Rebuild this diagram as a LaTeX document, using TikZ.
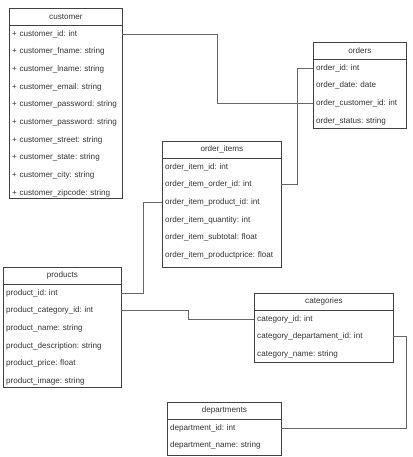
\documentclass[tikz,border=0pt]{standalone}
\usepackage{fontspec}
\setmainfont{Liberation Sans}
\usepackage{tikz}
\usetikzlibrary{positioning}
\frenchspacing

\begin{document}
\begin{tikzpicture}[x=1pt, y=-1pt,
		tbl/.style={draw=black!75, line width=0.8pt, anchor=north west, inner sep=0pt},
		head/.style={text=black!80, font=\fontsize{8.1}{10}\selectfont\frenchspacing},
		row/.style={anchor=west, text width=#1, align=left, inner xsep=3pt, inner ysep=0pt, minimum height=17.3pt, text=black!80, font=\fontsize{8.1}{10}\selectfont\frenchspacing},
		link/.style={draw=black!60, line width=0.8pt}]
		\useasboundingbox (0,0) rectangle (412,457);

		\node (customer) [tbl, minimum width=113pt, minimum height=190pt] at (9,8) {};
		\node (customer-h) [head] at ([yshift=-8.65pt]customer.north) {customer};
		\draw[tbl] ([yshift=-17.3pt]customer.north west) -- ([yshift=-17.3pt]customer.north east);
		\node (cu-id) [row=107pt] at ([yshift=-25.95pt]customer.north west) {+ customer\_id: int};
		\node (cu-fname) [row=107pt, below=0pt of cu-id] {+ customer\_fname: string};
		\node (cu-lname) [row=107pt, below=0pt of cu-fname] {+ customer\_lname: string};
		\node (cu-email) [row=107pt, below=0pt of cu-lname] {+ customer\_email: string};
		\node (cu-pass) [row=107pt, below=0pt of cu-email] {+ customer\_password: string};
		\node (cu-pass2) [row=107pt, below=0pt of cu-pass] {+ customer\_password: string};
		\node (cu-street) [row=107pt, below=0pt of cu-pass2] {+ customer\_street: string};
		\node (cu-state) [row=107pt, below=0pt of cu-street] {+ customer\_state: string};
		\node (cu-city) [row=107pt, below=0pt of cu-state] {+ customer\_city: string};
		\node (cu-zip) [row=107pt, below=0pt of cu-city] {+ customer\_zipcode: string};

		\node (orders) [tbl, minimum width=93pt, minimum height=86pt] at (313,42) {};
		\node (orders-h) [head] at ([yshift=-8.65pt]orders.north) {orders};
		\draw[tbl] ([yshift=-17.3pt]orders.north west) -- ([yshift=-17.3pt]orders.north east);
		\node (or-id) [row=87pt] at ([yshift=-25.95pt]orders.north west) {order\_id: int};
		\node (or-date) [row=87pt, below=0pt of or-id] {order\_date: date};
		\node (or-cust) [row=87pt, below=0pt of or-date] {order\_customer\_id: int};
		\node (or-status) [row=87pt, below=0pt of or-cust] {order\_status: string};

		\node (items) [tbl, minimum width=119pt, minimum height=126pt] at (162,141) {};
		\node (items-h) [head] at ([yshift=-8.65pt]items.north) {order\_items};
		\draw[tbl] ([yshift=-17.3pt]items.north west) -- ([yshift=-17.3pt]items.north east);
		\node (oi-id) [row=113pt] at ([yshift=-25.95pt]items.north west) {order\_item\_id: int};
		\node (oi-order) [row=113pt, below=0pt of oi-id] {order\_item\_order\_id: int};
		\node (oi-product) [row=113pt, below=0pt of oi-order] {order\_item\_product\_id: int};
		\node (oi-qty) [row=113pt, below=0pt of oi-product] {order\_item\_quantity: int};
		\node (oi-sub) [row=113pt, below=0pt of oi-qty] {order\_item\_subtotal: float};
		\node (oi-price) [row=113pt, below=0pt of oi-sub] {order\_item\_productprice: float};

		\node (products) [tbl, minimum width=118pt, minimum height=120pt] at (3,267) {};
		\node (products-h) [head] at ([yshift=-8.65pt]products.north) {products};
		\draw[tbl] ([yshift=-17.3pt]products.north west) -- ([yshift=-17.3pt]products.north east);
		\node (pr-id) [row=112pt] at ([yshift=-25.95pt]products.north west) {product\_id: int};
		\node (pr-cat) [row=112pt, below=0pt of pr-id] {product\_category\_id: int};
		\node (pr-name) [row=112pt, below=0pt of pr-cat] {product\_name: string};
		\node (pr-desc) [row=112pt, below=0pt of pr-name] {product\_description: string};
		\node (pr-price) [row=112pt, below=0pt of pr-desc] {product\_price: float};
		\node (pr-image) [row=112pt, below=0pt of pr-price] {product\_image: string};

		\node (categories) [tbl, minimum width=139pt, minimum height=69pt] at (254,293) {};
		\node (categories-h) [head] at ([yshift=-8.65pt]categories.north) {categories};
		\draw[tbl] ([yshift=-17.3pt]categories.north west) -- ([yshift=-17.3pt]categories.north east);
		\node (ca-id) [row=133pt] at ([yshift=-25.95pt]categories.north west) {category\_id: int};
		\node (ca-dep) [row=133pt, below=0pt of ca-id] {category\_departament\_id: int};
		\node (ca-name) [row=133pt, below=0pt of ca-dep] {category\_name: string};

		\node (departments) [tbl, minimum width=114pt, minimum height=53pt] at (167,402) {};
		\node (departments-h) [head] at ([yshift=-8.65pt]departments.north) {departments};
		\draw[tbl] ([yshift=-17.3pt]departments.north west) -- ([yshift=-17.3pt]departments.north east);
		\node (de-id) [row=108pt] at ([yshift=-25.95pt]departments.north west) {department\_id: int};
		\node (de-name) [row=108pt, below=0pt of de-id] {department\_name: string};

		% relations
		\draw[link] (cu-id.east) -- ++(95,0) |- (or-cust.west);
		\draw[link] (or-id.west) -- ++(-16,0) |- (oi-order.east);
		\draw[link] (oi-product.west) -- ++(-19,0) |- (pr-id.east);
		\draw[link] (pr-cat.east) -- ++(67,0) |- (ca-id.west);
		\draw[link] (ca-dep.east) -- ++(13,0) |- (de-id.east);
	\end{tikzpicture}
\end{document}
